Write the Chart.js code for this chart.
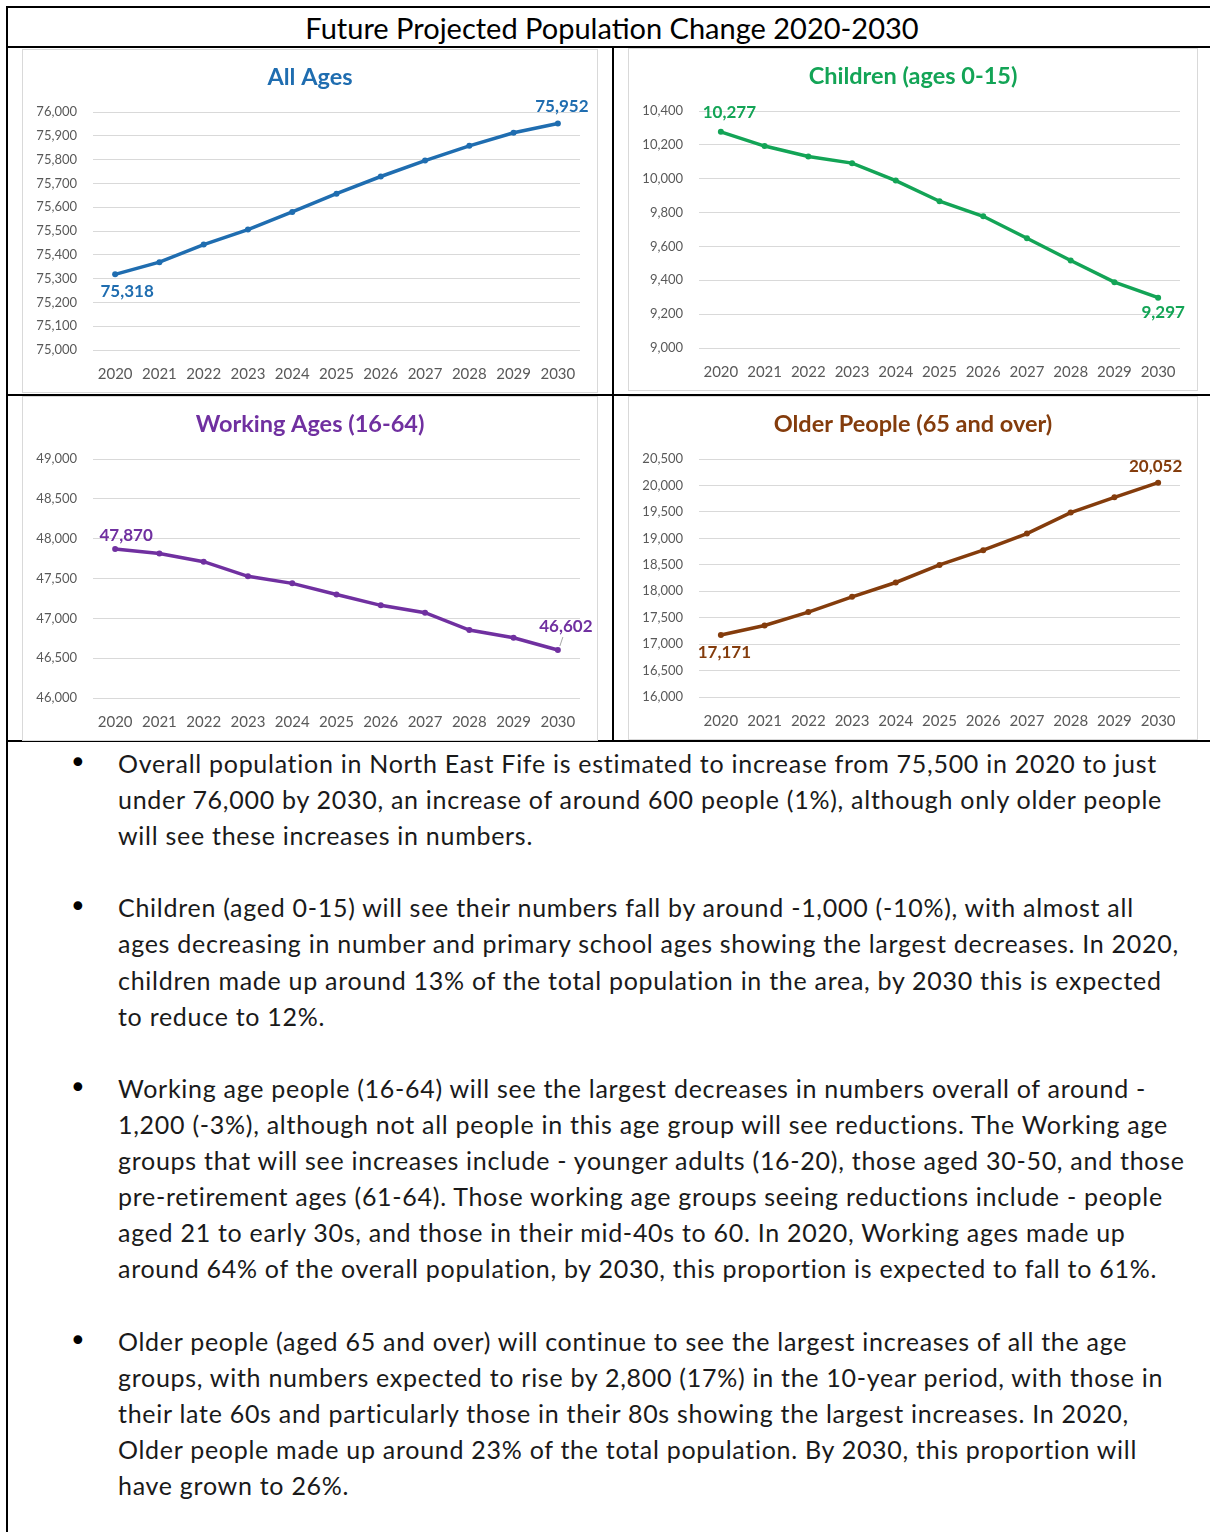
<!DOCTYPE html>
<html>
<head>
<meta charset="utf-8">
<title>Future Projected Population Change 2020-2030</title>
<script src="https://cdn.jsdelivr.net/npm/chart.js@4.4.1/dist/chart.umd.min.js"></script>
<style>
  html, body { margin: 0; padding: 0; background: #fff; }
  body { width: 1210px; height: 1532px; position: relative; overflow: hidden; font-family: Lato, "Open Sans", sans-serif; }
  .rule { position: absolute; background: #000; }
  .panel { position: absolute; box-sizing: border-box; border: 1px solid #d9d9d9; background: #fff; }
  .panel canvas { display: block; }
  #mainTitle { position: absolute; left: 262px; top: 8px; width: 700px; height: 38px; line-height: 40px;
               text-align: center; font-size: 29px; color: #000; white-space: nowrap; }
  .notes { position: absolute; left: 118px; top: 745px; font-size: 25px; letter-spacing: 0.72px; line-height: 36.1px; color: #1a1a1a; white-space: nowrap; }
  .notes p { margin: 0 0 36.1px 0; position: relative; }
  .notes p::before { content: "\2022"; position: absolute; left: -49px; top: 0; font-family: "DejaVu Sans"; font-size: 30px; letter-spacing: 0; color: #000; }
</style>
</head>
<body>
<div class="rule" style="left:6px; top:6px; width:1204px; height:2px;"></div>
<div class="rule" style="left:6px; top:6px; width:2px; height:1526px;"></div>
<div class="rule" style="left:6px; top:46px; width:1204px; height:2px;"></div>
<div class="rule" style="left:612px; top:47px; width:2px; height:694px;"></div>
<div class="rule" style="left:6px; top:394px; width:1204px; height:2px;"></div>
<div class="rule" style="left:6px; top:740px; width:1204px; height:2px;"></div>

<div id="mainTitle">Future Projected Population Change 2020-2030</div>

<div class="panel" style="left:22px; top:49px; width:576px; height:344px;"><canvas id="chartAll"></canvas></div>
<div class="panel" style="left:628px; top:48px; width:570px; height:343px;"><canvas id="chartChildren"></canvas></div>
<div class="panel" style="left:22px; top:396px; width:576px; height:345px;"><canvas id="chartWorking"></canvas></div>
<div class="panel" style="left:628px; top:396px; width:570px; height:344px;"><canvas id="chartOlder"></canvas></div>

<div class="notes">
  <p>Overall population in North East Fife is estimated to increase from 75,500 in 2020 to just<br>under 76,000 by 2030, an increase of around 600 people (1%), although only older people<br>will see these increases in numbers.</p>
  <p>Children (aged 0-15) will see their numbers fall by around -1,000 (-10%), with almost all<br>ages decreasing in number and primary school ages showing the largest decreases. In 2020,<br>children made up around 13% of the total population in the area, by 2030 this is expected<br>to reduce to 12%.</p>
  <p>Working age people (16-64) will see the largest decreases in numbers overall of around -<br>1,200 (-3%), although not all people in this age group will see reductions. The Working age<br>groups that will see increases include - younger adults (16-20), those aged 30-50, and those<br>pre-retirement ages (61-64). Those working age groups seeing reductions include - people<br>aged 21 to early 30s, and those in their mid-40s to 60. In 2020, Working ages made up<br>around 64% of the overall population, by 2030, this proportion is expected to fall to 61%.</p>
  <p>Older people (aged 65 and over) will continue to see the largest increases of all the age<br>groups, with numbers expected to rise by 2,800 (17%) in the 10-year period, with those in<br>their late 60s and particularly those in their 80s showing the largest increases. In 2020,<br>Older people made up around 23% of the total population. By 2030, this proportion will<br>have grown to 26%.</p>
</div>

<script>
// Data
const years = ['2020', '2021', '2022', '2023', '2024', '2025', '2026', '2027', '2028', '2029', '2030'];
const allAges = [75318, 75369, 75443, 75506, 75580, 75657, 75729, 75796, 75858, 75913, 75952];
const children = [10277, 10193, 10131, 10092, 9989, 9867, 9778, 9648, 9517, 9389, 9297];
const workingAges = [47870, 47815, 47711, 47527, 47439, 47300, 47163, 47071, 46853, 46757, 46602];
const olderPeople = [17171, 17353, 17605, 17894, 18165, 18498, 18776, 19090, 19487, 19776, 20052];

// y axis ranges: [min, max, step]
const allAgesRange = [75000, 76000, 100];
const childrenRange = [9000, 10400, 200];
const workingRange = [46000, 49000, 500];
const olderRange = [16000, 20500, 500];

const chartTitles = ['All Ages', 'Children (ages 0-15)', 'Working Ages (16-64)', 'Older People (65 and over)'];

// draws the first / last value next to the line
const endLabels = {
    id: 'endLabels',
    afterDatasetsDraw(chart, args, opts) {
        const ctx = chart.ctx;
        const meta = chart.getDatasetMeta(0);
        const data = chart.data.datasets[0].data;
        ctx.save();
        ctx.font = 'bold 17px Lato';
        ctx.fillStyle = opts.color;
        ctx.textAlign = 'center';
        ctx.textBaseline = 'middle';
        opts.items.forEach(it => {
            const pt = meta.data[it.index];
            if (it.leader) {
                ctx.strokeStyle = '#a6a6a6';
                ctx.lineWidth = 1;
                ctx.beginPath();
                ctx.moveTo(pt.x + 2, pt.y - 4);
                ctx.lineTo(pt.x + 5, pt.y - 13);
                ctx.stroke();
            }
            ctx.fillText(data[it.index].toLocaleString('en-GB'), pt.x + it.dx, pt.y + it.dy);
        });
        ctx.restore();
    }
};

const makeChart = (id, title, values, range, color, labels) => {
    new Chart(document.getElementById(id), {
        type: 'line',
        data: {
            labels: years,
            datasets: [{
                data: values,
                borderColor: color,
                backgroundColor: color,
                borderWidth: 3.5,
                pointRadius: 3,
                pointBorderWidth: 0,
                tension: 0
            }]
        },
        options: {
            responsive: true,
            maintainAspectRatio: false,
            animation: false,
            layout: { padding: 0 },
            plugins: {
                legend: { display: false },
                tooltip: { enabled: false },
                title: {
                    display: true,
                    text: title,
                    color: color,
                    font: { family: 'Lato', size: 23.5, weight: 'bold' },
                    padding: { top: 13.5, bottom: 20.3 }
                },
                endLabels: { color: color, items: labels }
            },
            scales: {
                x: {
                    offset: true,
                    grid: { display: false, drawTicks: false },
                    border: { display: false },
                    ticks: { color: '#595959', padding: 15, font: { family: 'Lato', size: 15 } },
                    afterFit: s => { s.height = 42; }
                },
                y: {
                    min: range[0],
                    max: range[1],
                    grid: { color: '#d9d9d9', drawTicks: false },
                    border: { display: false },
                    ticks: {
                        stepSize: range[2],
                        color: '#595959',
                        padding: 16,
                        font: { family: 'Lato', size: 13 },
                        callback: v => v.toLocaleString('en-GB')
                    },
                    afterFit: s => { s.width = 70; }
                },
                // empty margin on the right so the title stays centred on the panel
                yRight: {
                    position: 'right',
                    grid: { display: false, drawTicks: false },
                    border: { display: false },
                    ticks: { display: false },
                    afterFit: s => { s.width = 17; }
                }
            }
        },
        plugins: [endLabels]
    });
};

makeChart('chartAll', chartTitles[0], allAges, allAgesRange, '#1f6db0',
    [{ index: 0, dx: 12, dy: 17 }, { index: 10, dx: 4, dy: -17 }]);
makeChart('chartChildren', chartTitles[1], children, childrenRange, '#13a456',
    [{ index: 0, dx: 8.5, dy: -19 }, { index: 10, dx: 5, dy: 15 }]);
makeChart('chartWorking', chartTitles[2], workingAges, workingRange, '#7030a0',
    [{ index: 0, dx: 11, dy: -14 }, { index: 10, dx: 8, dy: -24, leader: true }]);
makeChart('chartOlder', chartTitles[3], olderPeople, olderRange, '#843c0c',
    [{ index: 0, dx: 3.5, dy: 17 }, { index: 10, dx: -2.5, dy: -16 }]);
</script>
</body>
</html>
